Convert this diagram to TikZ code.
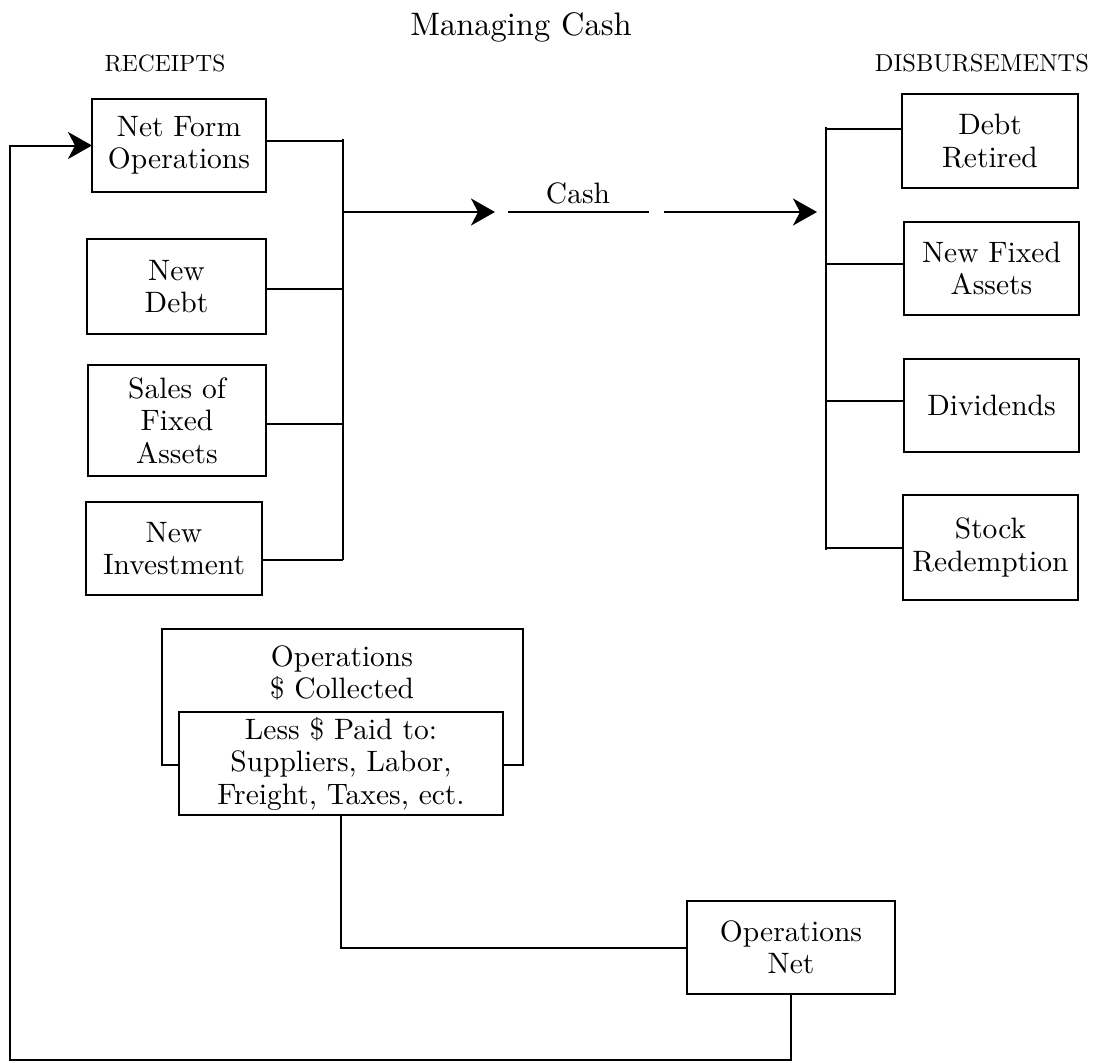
\documentclass[tikz,border=0pt]{standalone}
\usepackage{fontspec}
\setmainfont{lmroman10-regular.otf}
\usetikzlibrary{arrows.meta,calc}
\begin{document}
\begin{tikzpicture}[x=1pt,y=-1pt,
  every node/.style={inner sep=0pt,outer sep=0pt},
  txt/.style={font=\fontsize{29.5}{32.5}\selectfont,align=center},
  box/.style={txt,draw,line width=2pt,fill=white},
  wire/.style={line width=2pt},
  tip/.style={wire,-{Stealth[length=24pt,width=27pt,inset=7pt]}}]
\useasboundingbox (0,0) rectangle (1096,1063);
% headings
\node[anchor=base,font=\fontsize{32.5}{36}\selectfont] (title) at (521,35) {Managing Cash};
\node[anchor=base,font=\fontsize{23.5}{27}\selectfont] (rec) at (165,71) {RECEIPTS};
\node[anchor=base east,font=\fontsize{24.5}{27}\selectfont] (dis) at (1089,71) {DISBURSEMENTS};
% receipts
\node[box,minimum width=174pt,minimum height=93pt] (nfo) at (179,145.5) {Net Form\\Operations};
\node[box,minimum width=179pt,minimum height=95pt] (nd) at (176.5,286.5) {New\\Debt};
\node[box,minimum width=178pt,minimum height=111pt] (sfa) at (177,420.5) {Sales of\\Fixed\\Assets};
\node[box,minimum width=176pt,minimum height=93pt] (ni) at (174,548.5) {New\\Investment};
% disbursements
\node[box,minimum width=176pt,minimum height=94pt] (dr) at (990,141) {Debt\\Retired};
\node[box,minimum width=175pt,minimum height=93pt] (nfa) at (991.5,268.5) {New Fixed\\Assets};
\node[box,minimum width=175pt,minimum height=93pt] (div) at (991.5,405.5) {Dividends};
\node[box,minimum width=175pt,minimum height=105pt] (sr) at (990.5,547.5) {Stock\\Redemption};
% buses
\coordinate (lt) at (343,139);
\coordinate (l2) at (343,289);
\coordinate (l3) at (343,424);
\coordinate (lb) at (343,560);
\coordinate (lm) at (343,212);
\coordinate (rt) at (826,127);
\coordinate (r2) at (826,264);
\coordinate (r3) at (826,401);
\coordinate (rb) at (826,550);
\draw[wire] (lt) -- (lb);
\draw[wire] (rt) -- (rb);
\draw[wire] (nfo.east |- 0,141) -- (lt |- 0,141);
\draw[wire] (nd.east |- l2) -- (l2);
\draw[wire] (sfa.east |- l3) -- (l3);
\draw[wire] (ni.east |- lb) -- (lb);
\draw[wire] (dr.west |- 0,129) -- (rt |- 0,129);
\draw[wire] (nfa.west |- r2) -- (r2);
\draw[wire] (div.west |- r3) -- (r3);
\draw[wire] (sr.west |- 0,548) -- (rb |- 0,548);
% cash flow
\coordinate (a1) at (495,212);
\coordinate (c1) at (508,212);
\coordinate (c2) at (649,212);
\coordinate (a2) at (664,212);
\coordinate (a3) at (817,212);
\draw[tip] (lm) -- (a1);
\draw[wire] (c1) -- (c2);
\node[txt,anchor=base] (cash) at (578,203) {Cash};
\draw[tip] (a2) -- (a3);
% operations
\node[draw,line width=2pt,minimum width=361pt,minimum height=136pt] (opc) at (342.5,697) {};
\node[txt] (opct) at (342,673) {Operations\\\$ Collected};
\node[box,minimum width=324pt,minimum height=103pt] (paid) at (341,763.5) {Less \$ Paid to:\\Suppliers, Labor,\\Freight, Taxes, ect.};
\node[box,minimum width=208pt,minimum height=93pt] (on) at (791,947.5) {Operations\\Net};
\draw[wire] (paid.south) |- (on.west);
\coordinate (fb1) at (10,1060);
\draw[tip] (on.south) |- (fb1) |- (nfo.west);
\end{tikzpicture}
\end{document}
